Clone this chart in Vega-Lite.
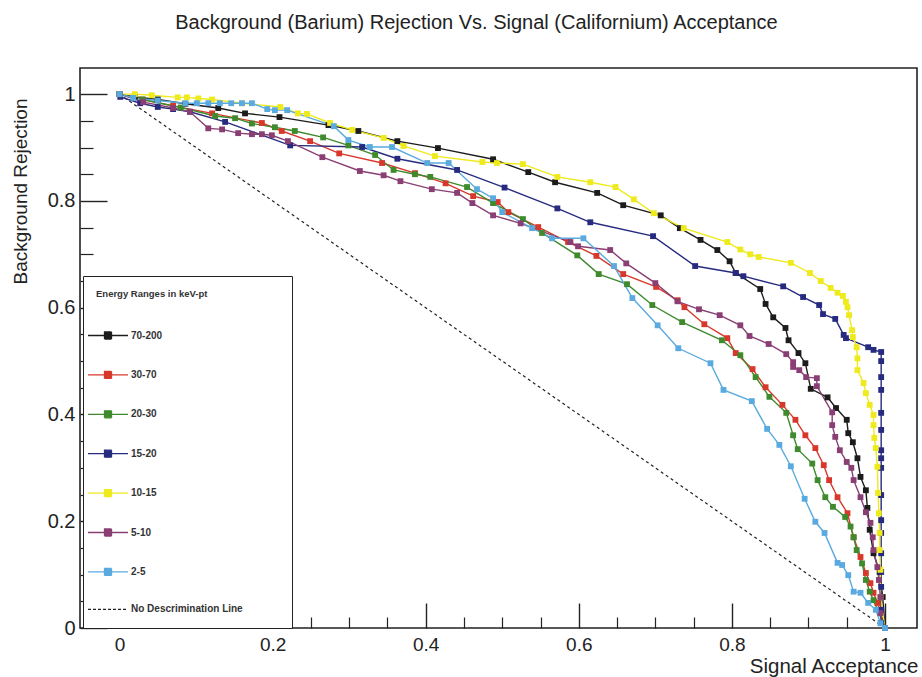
{
  "$schema": "https://vega.github.io/schema/vega-lite/v6.json",
  "width": 837,
  "height": 560,
  "autosize": {"type": "none"},
  "padding": {"left": 80, "top": 68, "right": 5, "bottom": 49},
  "background": "white",
  "title": {
    "text": "Background (Barium) Rejection Vs. Signal (Californium) Acceptance",
    "font": "Liberation Sans",
    "fontSize": 20,
    "fontWeight": "normal",
    "color": "#222222",
    "anchor": "middle",
    "frame": "group",
    "dx": -22,
    "offset": 19,
    "baseline": "alphabetic"
  },
  "config": {
    "view": {"stroke": "#222222", "strokeWidth": 1.6},
    "axis": {"grid": false, "domain": false, "labelFont": "Liberation Sans", "titleFont": "Liberation Sans", "labelColor": "#222222", "titleColor": "#222222", "titleFontWeight": "normal", "labelOverlap": false, "labelFlush": false}
  },
  "datasets": {
    "diag": [
      {"series": "No Descrimination Line", "x": 0, "y": 1},
      {"series": "No Descrimination Line", "x": 1, "y": 0}
    ],
    "curves": [
      {"series": "70-200", "x": 0, "y": 1},
      {"series": "70-200", "x": 0.02, "y": 0.995},
      {"series": "70-200", "x": 0.05, "y": 0.99},
      {"series": "70-200", "x": 0.086, "y": 0.982},
      {"series": "70-200", "x": 0.129, "y": 0.974},
      {"series": "70-200", "x": 0.164, "y": 0.964},
      {"series": "70-200", "x": 0.209, "y": 0.957},
      {"series": "70-200", "x": 0.273, "y": 0.942},
      {"series": "70-200", "x": 0.312, "y": 0.931},
      {"series": "70-200", "x": 0.363, "y": 0.912},
      {"series": "70-200", "x": 0.416, "y": 0.899},
      {"series": "70-200", "x": 0.488, "y": 0.878},
      {"series": "70-200", "x": 0.534, "y": 0.854},
      {"series": "70-200", "x": 0.569, "y": 0.835},
      {"series": "70-200", "x": 0.624, "y": 0.815},
      {"series": "70-200", "x": 0.658, "y": 0.792},
      {"series": "70-200", "x": 0.707, "y": 0.773},
      {"series": "70-200", "x": 0.732, "y": 0.749},
      {"series": "70-200", "x": 0.759, "y": 0.727},
      {"series": "70-200", "x": 0.781, "y": 0.708},
      {"series": "70-200", "x": 0.797, "y": 0.687},
      {"series": "70-200", "x": 0.805, "y": 0.665},
      {"series": "70-200", "x": 0.837, "y": 0.635},
      {"series": "70-200", "x": 0.844, "y": 0.607},
      {"series": "70-200", "x": 0.854, "y": 0.582},
      {"series": "70-200", "x": 0.87, "y": 0.562},
      {"series": "70-200", "x": 0.874, "y": 0.539},
      {"series": "70-200", "x": 0.887, "y": 0.515},
      {"series": "70-200", "x": 0.896, "y": 0.496},
      {"series": "70-200", "x": 0.903, "y": 0.448},
      {"series": "70-200", "x": 0.925, "y": 0.432},
      {"series": "70-200", "x": 0.936, "y": 0.412},
      {"series": "70-200", "x": 0.95, "y": 0.39},
      {"series": "70-200", "x": 0.952, "y": 0.365},
      {"series": "70-200", "x": 0.958, "y": 0.348},
      {"series": "70-200", "x": 0.964, "y": 0.318},
      {"series": "70-200", "x": 0.968, "y": 0.283},
      {"series": "70-200", "x": 0.975, "y": 0.258},
      {"series": "70-200", "x": 0.977, "y": 0.225},
      {"series": "70-200", "x": 0.98, "y": 0.184},
      {"series": "70-200", "x": 0.985, "y": 0.14},
      {"series": "70-200", "x": 0.993, "y": 0.105},
      {"series": "70-200", "x": 0.997, "y": 0.058},
      {"series": "70-200", "x": 1, "y": 0},

      {"series": "30-70", "x": 0, "y": 1},
      {"series": "30-70", "x": 0.03, "y": 0.99},
      {"series": "30-70", "x": 0.07, "y": 0.978},
      {"series": "30-70", "x": 0.121, "y": 0.964},
      {"series": "30-70", "x": 0.186, "y": 0.946},
      {"series": "30-70", "x": 0.212, "y": 0.931},
      {"series": "30-70", "x": 0.249, "y": 0.912},
      {"series": "30-70", "x": 0.287, "y": 0.889},
      {"series": "30-70", "x": 0.343, "y": 0.871},
      {"series": "30-70", "x": 0.386, "y": 0.852},
      {"series": "30-70", "x": 0.426, "y": 0.833},
      {"series": "30-70", "x": 0.462, "y": 0.809},
      {"series": "30-70", "x": 0.494, "y": 0.798},
      {"series": "30-70", "x": 0.508, "y": 0.779},
      {"series": "30-70", "x": 0.547, "y": 0.751},
      {"series": "30-70", "x": 0.586, "y": 0.723},
      {"series": "30-70", "x": 0.623, "y": 0.697},
      {"series": "30-70", "x": 0.658, "y": 0.663},
      {"series": "30-70", "x": 0.701, "y": 0.639},
      {"series": "30-70", "x": 0.729, "y": 0.614},
      {"series": "30-70", "x": 0.738, "y": 0.601},
      {"series": "30-70", "x": 0.764, "y": 0.569},
      {"series": "30-70", "x": 0.794, "y": 0.543},
      {"series": "30-70", "x": 0.805, "y": 0.515},
      {"series": "30-70", "x": 0.827, "y": 0.485},
      {"series": "30-70", "x": 0.844, "y": 0.451},
      {"series": "30-70", "x": 0.866, "y": 0.418},
      {"series": "30-70", "x": 0.883, "y": 0.39},
      {"series": "30-70", "x": 0.896, "y": 0.361},
      {"series": "30-70", "x": 0.909, "y": 0.337},
      {"series": "30-70", "x": 0.92, "y": 0.305},
      {"series": "30-70", "x": 0.927, "y": 0.277},
      {"series": "30-70", "x": 0.938, "y": 0.245},
      {"series": "30-70", "x": 0.951, "y": 0.215},
      {"series": "30-70", "x": 0.959, "y": 0.17},
      {"series": "30-70", "x": 0.968, "y": 0.133},
      {"series": "30-70", "x": 0.975, "y": 0.103},
      {"series": "30-70", "x": 0.981, "y": 0.084},
      {"series": "30-70", "x": 0.985, "y": 0.066},
      {"series": "30-70", "x": 0.99, "y": 0.047},
      {"series": "30-70", "x": 1, "y": 0},

      {"series": "20-30", "x": 0, "y": 1},
      {"series": "20-30", "x": 0.03, "y": 0.99},
      {"series": "20-30", "x": 0.08, "y": 0.975},
      {"series": "20-30", "x": 0.125, "y": 0.959},
      {"series": "20-30", "x": 0.151, "y": 0.955},
      {"series": "20-30", "x": 0.173, "y": 0.945},
      {"series": "20-30", "x": 0.203, "y": 0.938},
      {"series": "20-30", "x": 0.229, "y": 0.931},
      {"series": "20-30", "x": 0.266, "y": 0.919},
      {"series": "20-30", "x": 0.299, "y": 0.904},
      {"series": "20-30", "x": 0.334, "y": 0.886},
      {"series": "20-30", "x": 0.358, "y": 0.858},
      {"series": "20-30", "x": 0.386, "y": 0.85},
      {"series": "20-30", "x": 0.406, "y": 0.845},
      {"series": "20-30", "x": 0.454, "y": 0.826},
      {"series": "20-30", "x": 0.488, "y": 0.796},
      {"series": "20-30", "x": 0.527, "y": 0.766},
      {"series": "20-30", "x": 0.552, "y": 0.74},
      {"series": "20-30", "x": 0.598, "y": 0.698},
      {"series": "20-30", "x": 0.626, "y": 0.663},
      {"series": "20-30", "x": 0.663, "y": 0.644},
      {"series": "20-30", "x": 0.696, "y": 0.605},
      {"series": "20-30", "x": 0.735, "y": 0.573},
      {"series": "20-30", "x": 0.787, "y": 0.539},
      {"series": "20-30", "x": 0.811, "y": 0.511},
      {"series": "20-30", "x": 0.831, "y": 0.47},
      {"series": "20-30", "x": 0.849, "y": 0.433},
      {"series": "20-30", "x": 0.871, "y": 0.403},
      {"series": "20-30", "x": 0.88, "y": 0.361},
      {"series": "20-30", "x": 0.886, "y": 0.335},
      {"series": "20-30", "x": 0.905, "y": 0.308},
      {"series": "20-30", "x": 0.912, "y": 0.277},
      {"series": "20-30", "x": 0.922, "y": 0.245},
      {"series": "20-30", "x": 0.932, "y": 0.227},
      {"series": "20-30", "x": 0.948, "y": 0.208},
      {"series": "20-30", "x": 0.955, "y": 0.19},
      {"series": "20-30", "x": 0.959, "y": 0.17},
      {"series": "20-30", "x": 0.963, "y": 0.146},
      {"series": "20-30", "x": 0.97, "y": 0.121},
      {"series": "20-30", "x": 0.975, "y": 0.09},
      {"series": "20-30", "x": 0.98, "y": 0.068},
      {"series": "20-30", "x": 0.985, "y": 0.052},
      {"series": "20-30", "x": 1, "y": 0},

      {"series": "15-20", "x": 0, "y": 1},
      {"series": "15-20", "x": 0.001, "y": 0.995},
      {"series": "15-20", "x": 0.027, "y": 0.983},
      {"series": "15-20", "x": 0.05, "y": 0.976},
      {"series": "15-20", "x": 0.07, "y": 0.972},
      {"series": "15-20", "x": 0.092, "y": 0.967},
      {"series": "15-20", "x": 0.138, "y": 0.948},
      {"series": "15-20", "x": 0.223, "y": 0.904},
      {"series": "15-20", "x": 0.317, "y": 0.901},
      {"series": "15-20", "x": 0.363, "y": 0.879},
      {"series": "15-20", "x": 0.441, "y": 0.858},
      {"series": "15-20", "x": 0.503, "y": 0.825},
      {"series": "15-20", "x": 0.572, "y": 0.786},
      {"series": "15-20", "x": 0.615, "y": 0.76},
      {"series": "15-20", "x": 0.697, "y": 0.734},
      {"series": "15-20", "x": 0.752, "y": 0.678},
      {"series": "15-20", "x": 0.805, "y": 0.665},
      {"series": "15-20", "x": 0.815, "y": 0.659},
      {"series": "15-20", "x": 0.867, "y": 0.64},
      {"series": "15-20", "x": 0.893, "y": 0.62},
      {"series": "15-20", "x": 0.914, "y": 0.605},
      {"series": "15-20", "x": 0.919, "y": 0.588},
      {"series": "15-20", "x": 0.935, "y": 0.579},
      {"series": "15-20", "x": 0.946, "y": 0.549},
      {"series": "15-20", "x": 0.949, "y": 0.543},
      {"series": "15-20", "x": 0.978, "y": 0.526},
      {"series": "15-20", "x": 0.985, "y": 0.521},
      {"series": "15-20", "x": 0.995, "y": 0.517},
      {"series": "15-20", "x": 0.995, "y": 0.5},
      {"series": "15-20", "x": 0.995, "y": 0.47},
      {"series": "15-20", "x": 0.995, "y": 0.446},
      {"series": "15-20", "x": 0.995, "y": 0.403},
      {"series": "15-20", "x": 0.995, "y": 0.371},
      {"series": "15-20", "x": 0.995, "y": 0.333},
      {"series": "15-20", "x": 0.995, "y": 0.318},
      {"series": "15-20", "x": 0.995, "y": 0.3},
      {"series": "15-20", "x": 0.995, "y": 0.249},
      {"series": "15-20", "x": 0.995, "y": 0.202},
      {"series": "15-20", "x": 0.995, "y": 0.178},
      {"series": "15-20", "x": 0.995, "y": 0.14},
      {"series": "15-20", "x": 0.995, "y": 0.105},
      {"series": "15-20", "x": 0.995, "y": 0.077},
      {"series": "15-20", "x": 0.995, "y": 0.034},
      {"series": "15-20", "x": 0.995, "y": 0.009},
      {"series": "15-20", "x": 1, "y": 0},

      {"series": "10-15", "x": 0, "y": 1},
      {"series": "10-15", "x": 0.02, "y": 1.0},
      {"series": "10-15", "x": 0.042, "y": 0.998},
      {"series": "10-15", "x": 0.076, "y": 0.994},
      {"series": "10-15", "x": 0.088, "y": 0.994},
      {"series": "10-15", "x": 0.103, "y": 0.992},
      {"series": "10-15", "x": 0.121, "y": 0.99},
      {"series": "10-15", "x": 0.16, "y": 0.983},
      {"series": "10-15", "x": 0.21, "y": 0.976},
      {"series": "10-15", "x": 0.233, "y": 0.964},
      {"series": "10-15", "x": 0.245, "y": 0.963},
      {"series": "10-15", "x": 0.275, "y": 0.946},
      {"series": "10-15", "x": 0.304, "y": 0.933},
      {"series": "10-15", "x": 0.345, "y": 0.918},
      {"series": "10-15", "x": 0.371, "y": 0.903},
      {"series": "10-15", "x": 0.412, "y": 0.884},
      {"series": "10-15", "x": 0.474, "y": 0.873},
      {"series": "10-15", "x": 0.493, "y": 0.871},
      {"series": "10-15", "x": 0.527, "y": 0.869},
      {"series": "10-15", "x": 0.572, "y": 0.845},
      {"series": "10-15", "x": 0.615, "y": 0.835},
      {"series": "10-15", "x": 0.648, "y": 0.826},
      {"series": "10-15", "x": 0.672, "y": 0.803},
      {"series": "10-15", "x": 0.698, "y": 0.777},
      {"series": "10-15", "x": 0.737, "y": 0.749},
      {"series": "10-15", "x": 0.794, "y": 0.723},
      {"series": "10-15", "x": 0.811, "y": 0.709},
      {"series": "10-15", "x": 0.824, "y": 0.7},
      {"series": "10-15", "x": 0.835, "y": 0.695},
      {"series": "10-15", "x": 0.877, "y": 0.684},
      {"series": "10-15", "x": 0.902, "y": 0.665},
      {"series": "10-15", "x": 0.916, "y": 0.65},
      {"series": "10-15", "x": 0.929, "y": 0.637},
      {"series": "10-15", "x": 0.938, "y": 0.628},
      {"series": "10-15", "x": 0.945, "y": 0.622},
      {"series": "10-15", "x": 0.949, "y": 0.611},
      {"series": "10-15", "x": 0.951, "y": 0.601},
      {"series": "10-15", "x": 0.953, "y": 0.586},
      {"series": "10-15", "x": 0.957, "y": 0.558},
      {"series": "10-15", "x": 0.958, "y": 0.545},
      {"series": "10-15", "x": 0.963, "y": 0.526},
      {"series": "10-15", "x": 0.964, "y": 0.505},
      {"series": "10-15", "x": 0.964, "y": 0.483},
      {"series": "10-15", "x": 0.972, "y": 0.459},
      {"series": "10-15", "x": 0.975, "y": 0.44},
      {"series": "10-15", "x": 0.98, "y": 0.418},
      {"series": "10-15", "x": 0.985, "y": 0.399},
      {"series": "10-15", "x": 0.985, "y": 0.38},
      {"series": "10-15", "x": 0.986, "y": 0.356},
      {"series": "10-15", "x": 0.988, "y": 0.337},
      {"series": "10-15", "x": 0.99, "y": 0.302},
      {"series": "10-15", "x": 0.991, "y": 0.253},
      {"series": "10-15", "x": 0.992, "y": 0.215},
      {"series": "10-15", "x": 0.993, "y": 0.178},
      {"series": "10-15", "x": 0.993, "y": 0.146},
      {"series": "10-15", "x": 0.994, "y": 0.109},
      {"series": "10-15", "x": 0.994, "y": 0.058},
      {"series": "10-15", "x": 1, "y": 0},

      {"series": "5-10", "x": 0, "y": 1},
      {"series": "5-10", "x": 0.031, "y": 0.985},
      {"series": "5-10", "x": 0.07, "y": 0.974},
      {"series": "5-10", "x": 0.092, "y": 0.967},
      {"series": "5-10", "x": 0.116, "y": 0.936},
      {"series": "5-10", "x": 0.134, "y": 0.934},
      {"series": "5-10", "x": 0.155, "y": 0.927},
      {"series": "5-10", "x": 0.173, "y": 0.925},
      {"series": "5-10", "x": 0.186, "y": 0.925},
      {"series": "5-10", "x": 0.199, "y": 0.923},
      {"series": "5-10", "x": 0.22, "y": 0.912},
      {"series": "5-10", "x": 0.265, "y": 0.882},
      {"series": "5-10", "x": 0.314, "y": 0.856},
      {"series": "5-10", "x": 0.345, "y": 0.848},
      {"series": "5-10", "x": 0.367, "y": 0.837},
      {"series": "5-10", "x": 0.408, "y": 0.822},
      {"series": "5-10", "x": 0.441, "y": 0.815},
      {"series": "5-10", "x": 0.461, "y": 0.796},
      {"series": "5-10", "x": 0.488, "y": 0.773},
      {"series": "5-10", "x": 0.524, "y": 0.758},
      {"series": "5-10", "x": 0.589, "y": 0.723},
      {"series": "5-10", "x": 0.599, "y": 0.715},
      {"series": "5-10", "x": 0.641, "y": 0.708},
      {"series": "5-10", "x": 0.662, "y": 0.683},
      {"series": "5-10", "x": 0.7, "y": 0.646},
      {"series": "5-10", "x": 0.729, "y": 0.612},
      {"series": "5-10", "x": 0.757, "y": 0.597},
      {"series": "5-10", "x": 0.784, "y": 0.586},
      {"series": "5-10", "x": 0.811, "y": 0.567},
      {"series": "5-10", "x": 0.823, "y": 0.547},
      {"series": "5-10", "x": 0.848, "y": 0.532},
      {"series": "5-10", "x": 0.871, "y": 0.513},
      {"series": "5-10", "x": 0.88, "y": 0.498},
      {"series": "5-10", "x": 0.88, "y": 0.489},
      {"series": "5-10", "x": 0.888, "y": 0.483},
      {"series": "5-10", "x": 0.897, "y": 0.47},
      {"series": "5-10", "x": 0.911, "y": 0.468},
      {"series": "5-10", "x": 0.911, "y": 0.453},
      {"series": "5-10", "x": 0.931, "y": 0.404},
      {"series": "5-10", "x": 0.931, "y": 0.38},
      {"series": "5-10", "x": 0.935, "y": 0.358},
      {"series": "5-10", "x": 0.941, "y": 0.333},
      {"series": "5-10", "x": 0.95, "y": 0.311},
      {"series": "5-10", "x": 0.956, "y": 0.3},
      {"series": "5-10", "x": 0.959, "y": 0.277},
      {"series": "5-10", "x": 0.968, "y": 0.245},
      {"series": "5-10", "x": 0.975, "y": 0.217},
      {"series": "5-10", "x": 0.981, "y": 0.197},
      {"series": "5-10", "x": 0.984, "y": 0.17},
      {"series": "5-10", "x": 0.985, "y": 0.146},
      {"series": "5-10", "x": 0.99, "y": 0.114},
      {"series": "5-10", "x": 0.992, "y": 0.09},
      {"series": "5-10", "x": 0.994, "y": 0.058},
      {"series": "5-10", "x": 0.994, "y": 0.028},
      {"series": "5-10", "x": 1, "y": 0},

      {"series": "2-5", "x": 0, "y": 1},
      {"series": "2-5", "x": 0.018, "y": 0.993},
      {"series": "2-5", "x": 0.05, "y": 0.988},
      {"series": "2-5", "x": 0.086, "y": 0.983},
      {"series": "2-5", "x": 0.101, "y": 0.983},
      {"series": "2-5", "x": 0.116, "y": 0.983},
      {"series": "2-5", "x": 0.131, "y": 0.983},
      {"series": "2-5", "x": 0.146, "y": 0.983},
      {"series": "2-5", "x": 0.16, "y": 0.983},
      {"series": "2-5", "x": 0.173, "y": 0.983},
      {"series": "2-5", "x": 0.193, "y": 0.972},
      {"series": "2-5", "x": 0.203, "y": 0.97},
      {"series": "2-5", "x": 0.219, "y": 0.97},
      {"series": "2-5", "x": 0.28, "y": 0.94},
      {"series": "2-5", "x": 0.299, "y": 0.914},
      {"series": "2-5", "x": 0.327, "y": 0.901},
      {"series": "2-5", "x": 0.356, "y": 0.901},
      {"series": "2-5", "x": 0.402, "y": 0.871},
      {"series": "2-5", "x": 0.43, "y": 0.871},
      {"series": "2-5", "x": 0.467, "y": 0.822},
      {"series": "2-5", "x": 0.488, "y": 0.805},
      {"series": "2-5", "x": 0.5, "y": 0.779},
      {"series": "2-5", "x": 0.539, "y": 0.749},
      {"series": "2-5", "x": 0.565, "y": 0.73},
      {"series": "2-5", "x": 0.606, "y": 0.73},
      {"series": "2-5", "x": 0.646, "y": 0.678},
      {"series": "2-5", "x": 0.67, "y": 0.618},
      {"series": "2-5", "x": 0.703, "y": 0.567},
      {"series": "2-5", "x": 0.73, "y": 0.524},
      {"series": "2-5", "x": 0.772, "y": 0.496},
      {"series": "2-5", "x": 0.789, "y": 0.446},
      {"series": "2-5", "x": 0.826, "y": 0.425},
      {"series": "2-5", "x": 0.846, "y": 0.373},
      {"series": "2-5", "x": 0.862, "y": 0.343},
      {"series": "2-5", "x": 0.877, "y": 0.303},
      {"series": "2-5", "x": 0.895, "y": 0.242},
      {"series": "2-5", "x": 0.909, "y": 0.199},
      {"series": "2-5", "x": 0.921, "y": 0.178},
      {"series": "2-5", "x": 0.938, "y": 0.122},
      {"series": "2-5", "x": 0.944, "y": 0.118},
      {"series": "2-5", "x": 0.952, "y": 0.099},
      {"series": "2-5", "x": 0.959, "y": 0.068},
      {"series": "2-5", "x": 0.968, "y": 0.066},
      {"series": "2-5", "x": 0.978, "y": 0.047},
      {"series": "2-5", "x": 0.988, "y": 0.034},
      {"series": "2-5", "x": 0.994, "y": 0.009},
      {"series": "2-5", "x": 1, "y": 0}
    ]
  },
  "layer": [
    {
      "data": {"name": "diag"},
      "mark": {"type": "line", "strokeDash": [3, 3], "strokeWidth": 1.2},
      "encoding": {
        "x": {
          "field": "x", "type": "quantitative",
          "scale": {"domain": [-0.0516, 1.0418], "nice": false, "zero": false},
          "axis": {"orient": "bottom", "values": [0, 0.2, 0.4, 0.6, 0.8, 1], "format": "~g", "ticks": false, "labelFontSize": 19, "labelPadding": 7,
            "title": "Signal Acceptance", "titleFontSize": 20.5, "titleX": 838, "titleY": 44, "titleAlign": "right", "titleBaseline": "alphabetic", "titleAngle": 0}
        },
        "y": {
          "field": "y", "type": "quantitative",
          "scale": {"domain": [0, 1.049], "nice": false, "zero": false},
          "axis": {"orient": "left", "values": [0, 0.2, 0.4, 0.6, 0.8, 1], "format": "~g", "ticks": false, "labelFontSize": 20, "labelPadding": 5,
            "title": "Background Rejection", "titleFontSize": 19, "titleAngle": 270, "titleX": -60, "titleY": 30, "titleAlign": "right", "titleBaseline": "middle"}
        },
        "color": {
          "field": "series", "type": "nominal",
          "scale": {
            "domain": ["70-200", "30-70", "20-30", "15-20", "10-15", "5-10", "2-5", "No Descrimination Line"],
            "range": ["#1c1c1c", "#d8382b", "#3e8a2d", "#272b7f", "#eeea1c", "#8a3f74", "#5aaadf", "#222222"]
          },
          "legend": {
            "orient": "none", "legendX": 3, "legendY": 208,
            "title": "Energy Ranges in keV-pt",
            "titleFont": "Liberation Sans", "titleFontSize": 9.5, "titleFontWeight": "bold", "titleColor": "#333333", "titlePadding": 32,
            "labelFont": "Liberation Sans", "labelFontSize": 10, "labelFontWeight": "bold", "labelColor": "#333333",
            "padding": 13, "strokeColor": "#222222", "fillColor": "white",
            "rowPadding": 25.4, "symbolOffset": 7, "labelOffset": 18,
            "symbolSize": 64, "symbolStrokeWidth": 1.3,
            "symbolType": "M-5,0H5M-0.875,-0.875H0.875V0.875H-0.875ZM42,0",
            "encode": {
              "symbols": {"update": {
                "shape": [{"test": "datum.value === 'No Descrimination Line'", "value": "M-5,0H5M42,0"}, {"value": "M-5,0H5M-0.875,-0.875H0.875V0.875H-0.875ZM42,0"}],
                "strokeDash": [{"test": "datum.value === 'No Descrimination Line'", "value": [3, 2]}, {"value": [1, 0]}],
                "fill": [{"test": "datum.value === 'No Descrimination Line'", "value": "transparent"}, {"scale": "color", "field": "value"}],
                "stroke": {"scale": "color", "field": "value"},
                "opacity": {"value": 1}
              }}
            }
          }
        },
        "order": {"value": null}
      }
    },
    {
      "data": {"name": "curves"},
      "mark": {"type": "line", "strokeWidth": 1.4},
      "encoding": {
        "x": {"field": "x", "type": "quantitative",
          "axis": {"orient": "bottom", "values": [0, 0.2, 0.4, 0.6, 0.8, 1], "labels": false, "ticks": true, "tickSize": -25, "tickWidth": 1.4, "tickColor": "#222222", "title": null}},
        "y": {"field": "y", "type": "quantitative",
          "axis": {"orient": "left", "values": [0, 0.2, 0.4, 0.6, 0.8, 1], "labels": false, "ticks": true, "tickSize": -27, "tickWidth": 1.4, "tickColor": "#222222", "title": null}},
        "color": {"field": "series", "type": "nominal"},
        "order": {"value": null}
      }
    },
    {
      "data": {"name": "curves"},
      "mark": {"type": "square", "size": 34, "opacity": 1},
      "encoding": {
        "x": {"field": "x", "type": "quantitative",
          "axis": {"orient": "bottom", "values": [0.05, 0.1, 0.15, 0.25, 0.3, 0.35, 0.45, 0.5, 0.55, 0.65, 0.7, 0.75, 0.85, 0.9, 0.95], "labels": false, "ticks": true, "tickSize": -11, "tickWidth": 1.2, "tickColor": "#222222", "title": null}},
        "y": {"field": "y", "type": "quantitative",
          "axis": {"orient": "left", "values": [0.05, 0.1, 0.15, 0.25, 0.3, 0.35, 0.45, 0.5, 0.55, 0.65, 0.7, 0.75, 0.85, 0.9, 0.95], "labels": false, "ticks": true, "tickSize": -13, "tickWidth": 1.2, "tickColor": "#222222", "title": null}},
        "color": {"field": "series", "type": "nominal"}
      }
    }
  ],
  "resolve": {"axis": {"x": "independent", "y": "independent"}}
}
